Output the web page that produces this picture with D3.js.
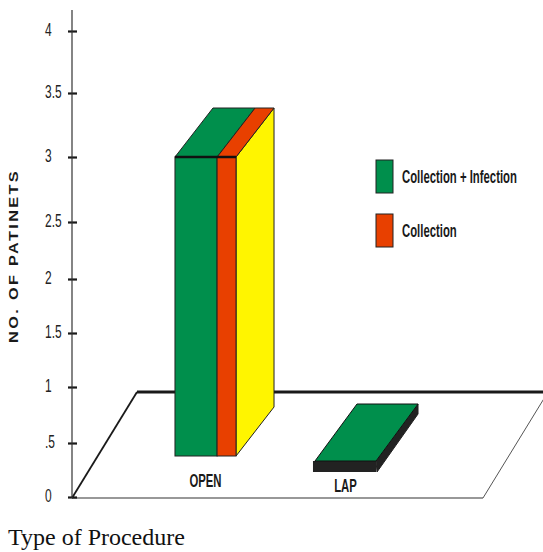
<!DOCTYPE html>
<html>
<head>
<meta charset="utf-8">
<script src="https://cdn.jsdelivr.net/npm/d3@7/dist/d3.min.js"></script>
<style>
  html, body { margin: 0; padding: 0; background: #fff; }
  svg { display: block; }
  .narrow { font-family: "Liberation Sans", Arial, sans-serif; fill: #1a1a1a; }
</style>
</head>
<body>
<svg id="chart" width="543" height="552"></svg>
<script>
// Procedure categories and the two complication series
const categories = ["OPEN", "LAP"];
const seriesNames = ["Collection + Infection", "Collection"];
const collectionInfection = [3, 0];
const collection = [3, 0];

// Vertical axis ticks
const tickValues = [0, 0.5, 1, 1.5, 2, 2.5, 3, 3.5, 4];
const tickLabels = ["0", ".5", "1", "1.5", "2", "2.5", "3", "3.5", "4"];

const xAxisTitle = "Type of Procedure";
const yAxisTitle = "NO. OF PATINETS";

const palette = { green: "#008f4c", red: "#e84000", yellow: "#fff500", edge: "#222" };
const squeeze = 0.63; // horizontal compression that gives the condensed look

const svg = d3.select("#chart");

// The value axis is drawn with uneven spacing between ticks
const y = d3.scaleLinear()
  .domain(tickValues)
  .range([497, 443, 387, 333, 279, 222, 157, 93, 31]);

const x = d3.scaleBand()
  .domain(categories)
  .range([135.5, 415.5])
  .paddingInner(0.564)
  .paddingOuter(0.282);

// floor of the 3-D scene (oblique parallelogram)
const axisX = 72, floorFront = 498, floorBack = 392;
const floorPts = [[axisX, floorFront], [483, floorFront], [548, floorBack], [137, floorBack]];
svg.append("path")
  .attr("d", d3.line()(floorPts) + "Z")
  .attr("fill", "#fff").attr("stroke", "none");
svg.append("line").attr("x1", axisX).attr("y1", floorFront).attr("x2", 483).attr("y2", floorFront)
  .attr("stroke", "#333").attr("stroke-width", 1.2);
svg.append("line").attr("x1", 483).attr("y1", floorFront).attr("x2", 548).attr("y2", floorBack)
  .attr("stroke", "#555").attr("stroke-width", 1);
svg.append("line").attr("x1", axisX).attr("y1", floorFront).attr("x2", 137).attr("y2", floorBack)
  .attr("stroke", "#1a1a1a").attr("stroke-width", 1.8);
svg.append("line").attr("x1", 137).attr("y1", floorBack).attr("x2", 548).attr("y2", floorBack)
  .attr("stroke", "#1a1a1a").attr("stroke-width", 3);

// value axis
const yAxis = d3.axisLeft(y).tickValues(tickValues).tickSize(0).tickFormat("");
const axisG = svg.append("g").attr("transform", `translate(${axisX},0)`).call(yAxis);
axisG.select(".domain").remove();
axisG.append("line").attr("x1", 0).attr("x2", 0).attr("y1", 10).attr("y2", floorFront)
  .attr("stroke", "#333").attr("stroke-width", 1.2);
axisG.selectAll(".tick").append("line")
  .attr("x1", -4).attr("x2", 5)
  .attr("stroke", "#1a1a1a").attr("stroke-width", 2.2);
axisG.selectAll(".tick").append("g")
  .attr("transform", `translate(-27,4) scale(${squeeze},1)`)
  .append("text")
  .attr("class", "narrow")
  .attr("text-anchor", "start")
  .attr("font-size", 19)
  .style("fill", "#222")
  .text((d, i) => tickLabels[i]);

svg.append("g")
  .attr("transform", "translate(14,256) rotate(-90) scale(1.25,1)")
  .append("text")
  .attr("text-anchor", "middle")
  .attr("dominant-baseline", "central")
  .attr("font-family", "'Liberation Sans', Arial, sans-serif")
  .attr("font-weight", "bold")
  .attr("font-size", 13)
  .attr("letter-spacing", 1.9)
  .attr("fill", "#1a1a1a")
  .text(yAxisTitle);

// bars: front face base and receding depth for each category
const layout = {
  OPEN: { base: 456, dx: 38, dy: -49, labelY: 487 },
  LAP:  { base: 471, dx: 42, dy: -57, labelY: 492 }
};
const greenShare = 0.69;
const poly = pts => d3.line()(pts) + "Z";

categories.forEach((cat, i) => {
  const L = layout[cat];
  const x0 = x(cat), w = x.bandwidth();
  const vGreen = collectionInfection[i], vRed = collection[i];
  const g = svg.append("g");

  if (vGreen > 0 || vRed > 0) {
    const gw = w * greenShare;
    const topG = y(vGreen), topR = y(vRed);
    const xr = x0 + w;
    // side face
    g.append("path").attr("d", poly([[xr, topR], [xr + L.dx, topR + L.dy], [xr + L.dx, L.base + L.dy], [xr, L.base]]))
      .attr("fill", palette.yellow).attr("stroke", palette.edge).attr("stroke-width", 1);
    // front faces
    g.append("rect").attr("x", x0).attr("y", topG).attr("width", gw).attr("height", L.base - topG)
      .attr("fill", palette.green).attr("stroke", palette.edge).attr("stroke-width", 1);
    g.append("rect").attr("x", x0 + gw).attr("y", topR).attr("width", w - gw).attr("height", L.base - topR)
      .attr("fill", palette.red).attr("stroke", palette.edge).attr("stroke-width", 1);
    // top faces
    g.append("path").attr("d", poly([[x0, topG], [x0 + gw, topG], [x0 + gw + L.dx, topG + L.dy], [x0 + L.dx, topG + L.dy]]))
      .attr("fill", palette.green).attr("stroke", palette.edge).attr("stroke-width", 1);
    g.append("path").attr("d", poly([[x0 + gw, topR], [xr, topR], [xr + L.dx, topR + L.dy], [x0 + gw + L.dx, topR + L.dy]]))
      .attr("fill", palette.red).attr("stroke", palette.edge).attr("stroke-width", 1);
    g.append("line").attr("x1", x0).attr("x2", xr).attr("y1", topG).attr("y2", topG)
      .attr("stroke", "#111").attr("stroke-width", 2.5);
  } else {
    // zero-height bar drawn as a thin slab
    const thick = 10, top = L.base - thick, xr = x0 + w;
    g.append("path").attr("d", poly([[xr, top], [xr + L.dx, top + L.dy], [xr + L.dx, top + L.dy + thick], [xr + 1, L.base + 1]]))
      .attr("fill", "#222").attr("stroke", "#222").attr("stroke-width", 1);
    g.append("rect").attr("x", x0 - 2).attr("y", top).attr("width", w + 2).attr("height", thick + 1)
      .attr("fill", "#222");
    g.append("path").attr("d", poly([[x0, top], [xr, top], [xr + L.dx, top + L.dy], [x0 + L.dx, top + L.dy]]))
      .attr("fill", palette.green).attr("stroke", "#111").attr("stroke-width", 1);
  }

  svg.append("g")
    .attr("transform", `translate(${x0 + w / 2},${L.labelY}) scale(${squeeze},1)`)
    .append("text")
    .attr("class", "narrow")
    .attr("text-anchor", "middle")
    .attr("font-weight", "bold")
    .attr("font-size", 18)
    .text(cat);
});

// legend
const legendColors = [palette.green, palette.red];
const legend = svg.append("g").attr("transform", "translate(376,160)");
const items = legend.selectAll("g").data(seriesNames).join("g")
  .attr("transform", (d, i) => `translate(0,${i * 54})`);
items.append("rect").attr("width", 17).attr("height", 33)
  .attr("fill", (d, i) => legendColors[i]).attr("stroke", "#222").attr("stroke-width", 1);
items.append("g")
  .attr("transform", `translate(26,23) scale(${squeeze},1)`)
  .append("text")
  .attr("class", "narrow")
  .attr("font-weight", "bold")
  .attr("font-size", 18)
  .text(d => d);

svg.append("text")
  .attr("x", 8).attr("y", 545)
  .attr("font-family", "'Liberation Serif', 'Times New Roman', serif")
  .attr("font-size", 24)
  .attr("fill", "#111")
  .text(xAxisTitle);
</script>
</body>
</html>
